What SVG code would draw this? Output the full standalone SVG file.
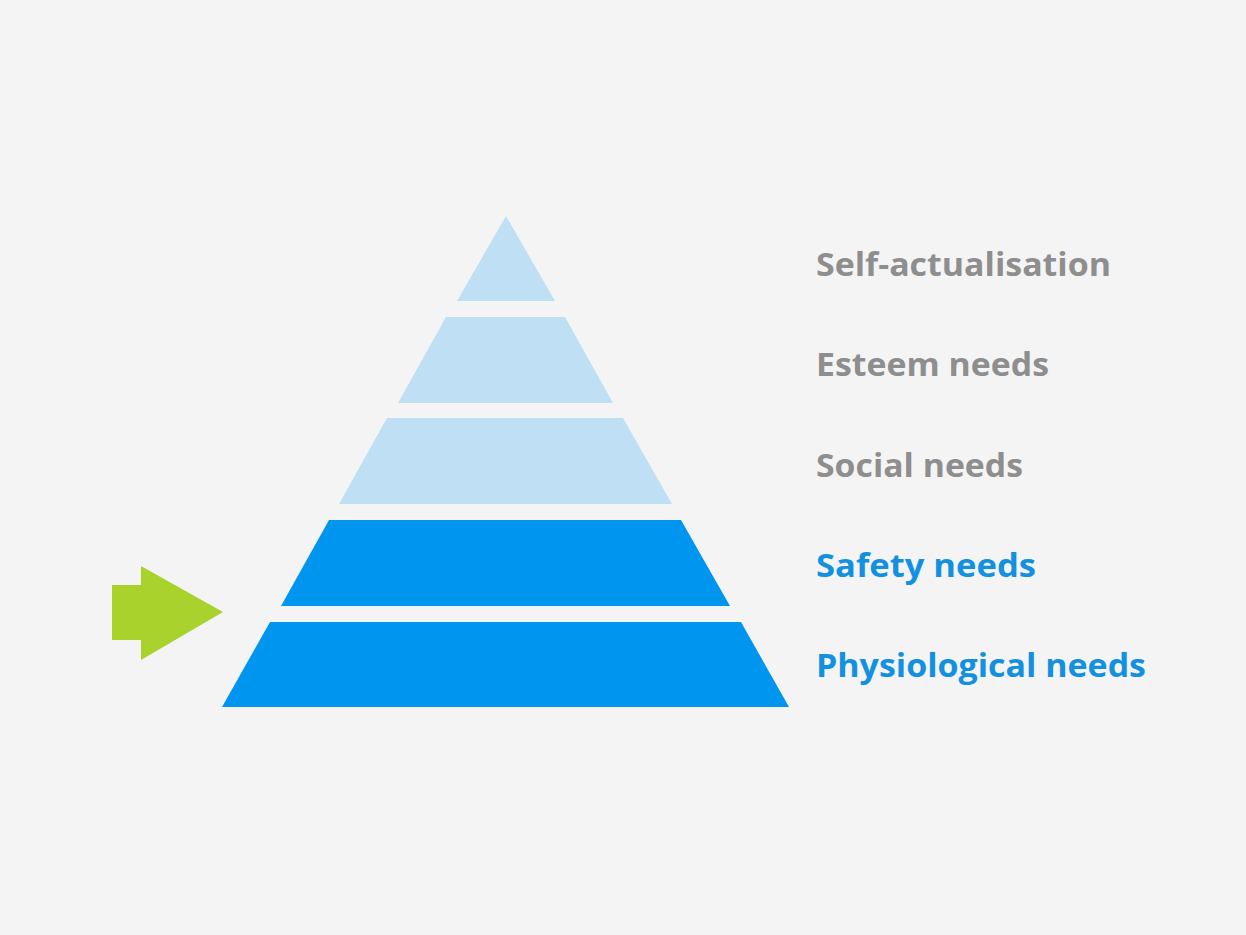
<svg xmlns="http://www.w3.org/2000/svg" width="1246" height="935" viewBox="0 0 1246 935">
<style>
.light{fill:#BEDFF4}
.dark{fill:#0095EF}
.lbl{font-family:"Open Sans",Lato,sans-serif;font-weight:700;font-size:33px}
.gray{fill:#8E8E8E}
.blue{fill:#1390E0}
</style>
<rect width="1246" height="935" fill="#F4F4F4"/>
<g id="tier-self-actualisation">
<polygon class="light" points="506,216 555,301 457,301"/>
<text class="lbl gray" x="816" y="276" textLength="295" lengthAdjust="spacingAndGlyphs">Self-actualisation</text>
</g>
<g id="tier-esteem">
<polygon class="light" points="446,317 565,317 613,403 398,403"/>
<text class="lbl gray" x="816" y="376" textLength="233" lengthAdjust="spacingAndGlyphs">Esteem needs</text>
</g>
<g id="tier-social">
<polygon class="light" points="387,418 623,418 672,504 339,504"/>
<text class="lbl gray" x="816" y="477" textLength="207" lengthAdjust="spacingAndGlyphs">Social needs</text>
</g>
<g id="tier-safety">
<polygon class="dark" points="329,520 681,520 730,606 281,606"/>
<text class="lbl blue" x="816" y="577" textLength="220" lengthAdjust="spacingAndGlyphs">Safety needs</text>
</g>
<g id="tier-physiological">
<polygon class="dark" points="270,622 741,622 789,707 222,707"/>
<text class="lbl blue" x="816" y="677" textLength="330" lengthAdjust="spacingAndGlyphs">Physiological needs</text>
</g>
<g id="arrow">
<polygon fill="#A9D22C" points="112,585 141,585 141,566 223,612 141,660 141,640 112,640"/>
</g>
</svg>
